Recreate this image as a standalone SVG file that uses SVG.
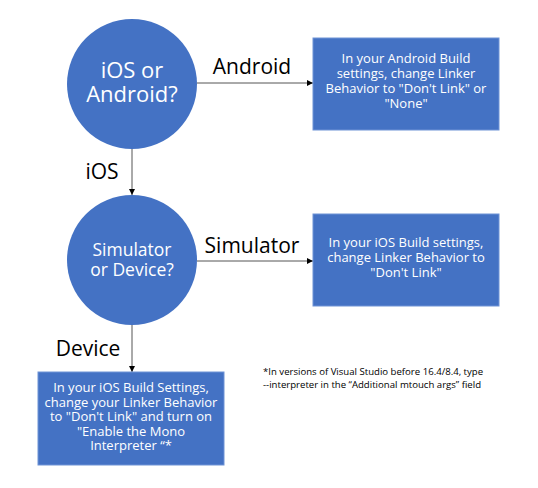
<svg xmlns="http://www.w3.org/2000/svg" width="538" height="488" viewBox="0 0 538 488">
<style>
.node{fill:#4472C4;}
.box{fill:#4472C4;stroke:#6F93D6;stroke-width:1;}
.ct{font-family:"Open Sans","Noto Sans",sans-serif;fill:#fff;text-anchor:middle;}
.bt{font-family:"Open Sans","Noto Sans",sans-serif;fill:#fff;text-anchor:middle;font-size:13px;}
.lbl{font-family:"Open Sans","Noto Sans",sans-serif;fill:#000;font-size:21px;text-anchor:middle;}
.note{font-family:"Open Sans","Noto Sans",sans-serif;fill:#000;font-size:9.6px;}
.edge{stroke:#555;stroke-width:1;fill:none;marker-end:url(#ah);}
</style>
<defs>
<marker id="ah" viewBox="0 0 6 6" refX="6" refY="3" markerWidth="6" markerHeight="6" markerUnits="userSpaceOnUse" orient="auto">
<path d="M0,0 L6,3 L0,6 z" fill="#000"/>
</marker>
</defs>
<rect width="538" height="488" fill="#fff"/>
<g id="connectors">
<line class="edge" x1="197" y1="83" x2="313" y2="83"/>
<line class="edge" x1="132" y1="149" x2="132" y2="195"/>
<line class="edge" x1="197" y1="261" x2="313" y2="261"/>
<line class="edge" x1="132" y1="325" x2="132" y2="372"/>
<text class="lbl" x="252" y="74">Android</text>
<text class="lbl" x="102" y="179">iOS</text>
<text class="lbl" x="252" y="253">Simulator</text>
<text class="lbl" x="88" y="356">Device</text>
</g>
<g id="q1">
<circle class="node" cx="132" cy="84" r="65"/>
<text class="ct" font-size="22" x="132" y="78">iOS or</text>
<text class="ct" font-size="22" x="132" y="102">Android?</text>
</g>
<g id="q2">
<circle class="node" cx="132" cy="260" r="65"/>
<text class="ct" font-size="17.5" x="132" y="256">Simulator</text>
<text class="ct" font-size="17.5" x="132" y="276">or Device?</text>
</g>
<g id="android">
<rect class="box" x="313" y="38" width="186" height="92"/>
<text class="bt" x="406" y="63">In your Android Build</text>
<text class="bt" x="406" y="78">settings, change Linker</text>
<text class="bt" x="406" y="93">Behavior to "Don't Link" or</text>
<text class="bt" x="406" y="108">"None"</text>
</g>
<g id="simulator">
<rect class="box" x="313" y="214" width="186" height="92"/>
<text class="bt" x="406" y="247">In your iOS Build settings,</text>
<text class="bt" x="406" y="262">change Linker Behavior to</text>
<text class="bt" x="406" y="277">"Don't Link"</text>
</g>
<g id="device">
<rect class="box" x="38" y="372" width="186" height="93"/>
<text class="bt" x="131" y="392">In your iOS Build Settings,</text>
<text class="bt" x="131" y="406.5">change your Linker Behavior</text>
<text class="bt" x="131" y="421">to "Don't Link" and turn on</text>
<text class="bt" x="131" y="435.5">"Enable the Mono</text>
<text class="bt" x="131" y="450">Interpreter “*</text>
</g>
<g id="footnote">
<text class="note" x="263" y="375">*In versions of Visual Studio before 16.4/8.4, type</text>
<text class="note" x="263" y="388">--interpreter in the “Additional mtouch args” field</text>
</g>
</svg>
